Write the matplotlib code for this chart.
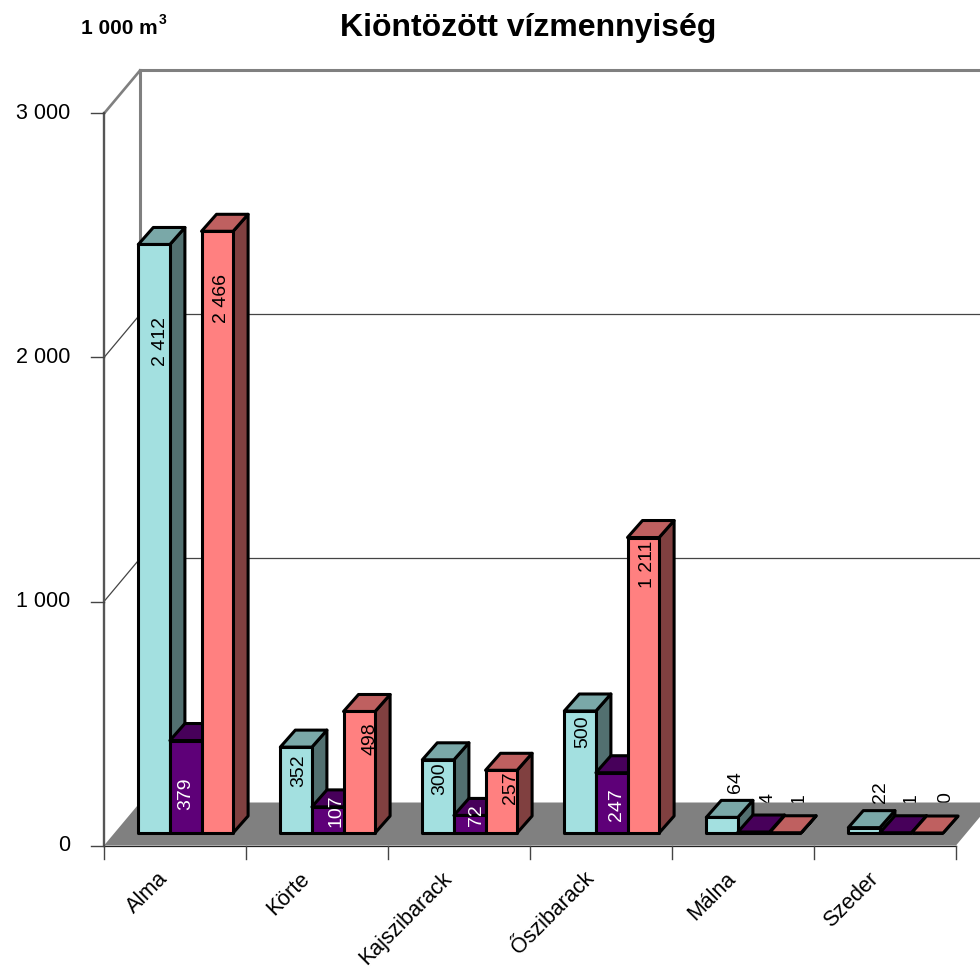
import matplotlib
matplotlib.use('Agg')
import matplotlib.pyplot as plt
from matplotlib.patches import Polygon

plt.rcParams['font.family'] = ['Liberation Sans', 'DejaVu Sans']

categories = ['Alma', 'Körte', 'Kajszibarack', 'Őszibarack', 'Málna', 'Szeder']
series_1 = [2412, 352, 300, 500, 64, 22]
series_2 = [379, 107, 72, 247, 4, 1]
series_3 = [2466, 498, 257, 1211, 1, 0]
y_ticks = [0, 1000, 2000, 3000]
y_tick_labels = ['0', '1 000', '2 000', '3 000']
title = 'Kiöntözött vízmennyiség'
unit = '1 000 m'

colors = [(0.64, 0.88, 0.88), (0.37, 0.0, 0.47), (1.0, 0.5, 0.5)]

# calibration against the picture, in pixels
X0, Y0 = 104.0, 845.5
PX_GROUP = 142.0
PX_VALUE = 244.0 / 1000
W, H = 980, 967
WALL_DX, WALL_DY = 36, 43
BAR_W = 31.6
BAR_DX, BAR_DY = 15, 17
BAR_LEFT = 34.3
BAR_UP = 12.5

# where the labels of the data sit in the original, px
label_x = [[160, 299, 440, 583, 735, 880],
           [186, 336, 476, 616, 768, 911],
           [221, 370, 510, 647, 799, 946]]
label_y = [[342, 771, 779, 732, 782, 792],
           [794, 811, 815, 805, 798, 799],
           [299, 739, 788, 564, 799, 798]]


def sx(px):
    return px / PX_GROUP


def sy(px):
    return px / PX_VALUE


def P(x, y):
    # picture pixel to data coordinates
    return ((x - X0) / PX_GROUP, (Y0 - y) / PX_VALUE)


fig = plt.figure(figsize=(W / 100, H / 100), dpi=100)
ax = fig.add_axes([0, 0, 1, 1])
ax.set_xlim(-X0 / PX_GROUP, (W - X0) / PX_GROUP)
ax.set_ylim((Y0 - H) / PX_VALUE, Y0 / PX_VALUE)
ax.axis('off')

n = len(categories)
top = y_ticks[-1]
wx, wy = sx(WALL_DX), sy(WALL_DY)

# floor
floor = [(0, 0), (wx, wy), (n + wx, wy), (n, 0)]
ax.add_patch(Polygon(floor, closed=True, fc='#808080', ec='none', zorder=1))

# walls and grid lines
ax.plot([0, wx], [top, top + wy], color='#808080', lw=1.9, zorder=2)
ax.plot([wx, wx], [wy, top + wy], color='#808080', lw=2.2, zorder=2)
ax.plot([wx, n + wx], [top + wy, top + wy], color='#808080', lw=2.2, zorder=2)
for v in y_ticks[1:-1]:
    ax.plot([0, wx, n + wx], [v, v + wy, v + wy], color='#444444', lw=0.9, zorder=2)

# axes lines and ticks
ax.plot([0, 0], [0, top], color='#555555', lw=1.7, zorder=2)
ax.plot([0, n], [0, 0], color='#222222', lw=0.9, zorder=2)
for v, lab in zip(y_ticks, y_tick_labels):
    ax.plot([-sx(13), 0], [v, v], color='#444444', lw=1.0, zorder=2)
    ax.text(-sx(34), v, lab, ha='right', va='center', fontsize=15.5, color='black')
for g in range(n + 1):
    ax.plot([g, g], [0, -sy(13)], color='#444444', lw=1.0, zorder=2)

# bars, left to right so that each covers the side of the one before
series = [series_1, series_2, series_3]
z = 3
for g in range(n):
    for s in range(3):
        v = series[s][g]
        c = colors[s]
        x0 = g + sx(BAR_LEFT + BAR_W * s)
        x1 = x0 + sx(BAR_W)
        b = sy(BAR_UP)
        t = b + v
        dx, dy = sx(BAR_DX), sy(BAR_DY)
        shade_top = tuple(k * 0.75 for k in c)
        shade_side = tuple(k * 0.5 for k in c)
        kw = dict(closed=True, ec='black', lw=2.2, joinstyle='round', zorder=z)
        ax.add_patch(Polygon([(x1, b), (x1 + dx, b + dy), (x1 + dx, t + dy), (x1, t)], fc=shade_side, **kw))
        ax.add_patch(Polygon([(x0, t), (x0 + dx, t + dy), (x1 + dx, t + dy), (x1, t)], fc=shade_top, **kw))
        ax.add_patch(Polygon([(x0, b), (x1, b), (x1, t), (x0, t)], fc=c, **kw))
        z += 1

# data labels, the tiny ones end up behind the floor like in the original
for g in range(n):
    for s in range(3):
        v = series[s][g]
        lx, ly = P(label_x[s][g], label_y[s][g])
        col = 'white' if s == 1 and v > 10 else 'black'
        zo = 0.5 if v < 10 else 100
        ax.text(lx, ly, f'{v:,}'.replace(',', ' '), rotation=90, ha='center', va='center',
                fontsize=14, color=col, zorder=zo)

# category labels
for g, name in enumerate(categories):
    ax.text(g + 0.5 - sx(10), -sy(30), name, rotation=45, rotation_mode='anchor',
            ha='right', va='center', fontsize=15.5, color='black')

x, y = P(528, 28)
ax.text(x, y, title, ha='center', va='center', fontsize=23, fontweight='bold')
x, y = P(81, 29)
ax.text(x, y, unit, ha='left', va='center', fontsize=15, fontweight='bold')
x, y = P(159, 20)
ax.text(x, y, '3', ha='left', va='center', fontsize=10, fontweight='bold')

fig.savefig('out.png', dpi=100)
